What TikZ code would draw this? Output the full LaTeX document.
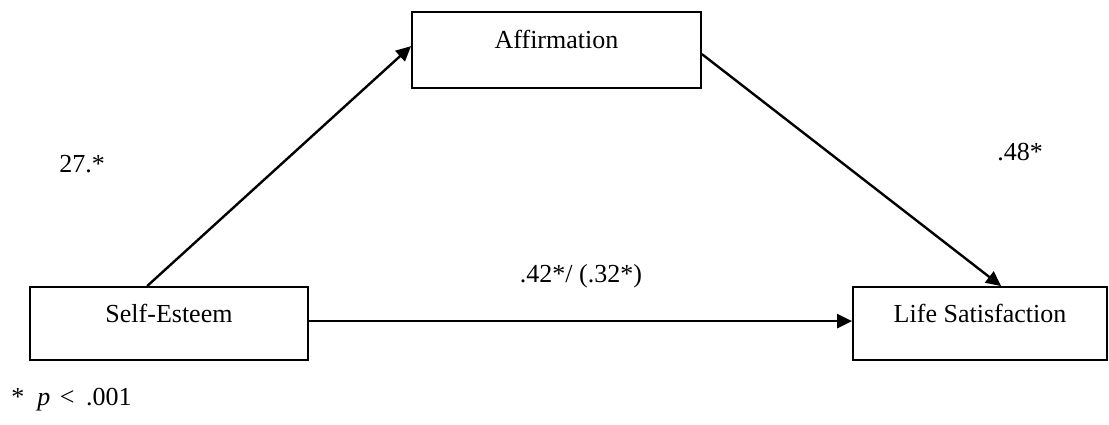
\documentclass[tikz,border=0pt]{standalone}
\usepackage{fontspec}
\setmainfont{Liberation Serif}
\usepackage{tikz}
\usetikzlibrary{arrows.meta,positioning}

\tikzset{
  varbox/.style={draw,line width=.9pt,inner sep=0pt,text height=17.5pt,text depth=19pt,anchor=base},
  effect/.style={line width=1.2pt,-{Triangle[length=7.5pt,width=7pt]}},
  coef/.style={inner sep=0pt}
}

\begin{document}
\begin{tikzpicture}[x=0.5pt,y=-0.5pt,font=\fontsize{13}{15.6}\selectfont]
  \useasboundingbox (0,0) rectangle (1109,424);
  % variables
  \node[varbox,minimum width=144.5pt,text height=18pt,text depth=20pt] (affirm) at (556.5,48) {Affirmation};
  \node[varbox,minimum width=139pt] (selfest) at (169,322) {Self-Esteem};
  \node[varbox,minimum width=127pt] (lifesat) at (980,322) {Life Satisfaction};

  % paths
  \draw[effect] ([xshift=59pt]selfest.north west) -- ([yshift=-17.5pt]affirm.north west);
  \draw[effect] ([yshift=-21.5pt]affirm.north east) -- ([xshift=74.5pt]lifesat.north west);
  \draw[effect] ([yshift=-17.5pt]selfest.north east) -- ([yshift=-17.5pt]lifesat.north west);

  % coefficients
  \node[coef] (pa) at (82,164) {27.*};
  \node[coef] (pb) at (1020,152) {.48*};
  \node[coef] (pc) at (581,276) {.42*/ (.32*)};
  \node[coef,anchor=base west] (note) at (11,405) {*\enspace\textit{p}\hspace{1.5pt} <\hspace{2.5pt} .001};
\end{tikzpicture}
\end{document}
